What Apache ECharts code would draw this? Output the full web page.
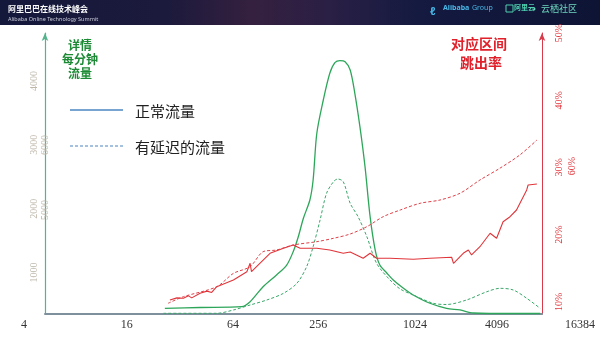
<!DOCTYPE html>
<html><head><meta charset="utf-8">
<script src="https://cdn.jsdelivr.net/npm/echarts@6/dist/echarts.min.js"></script>
<style>html,body{margin:0;padding:0;background:#fff}#c{width:600px;height:337px}</style>
</head><body><div id="c"></div>
<script>
// ---- data (x in log2 units of the per-minute bucket) ----
const xTickLabels = ['4', '16', '64', '256', '1024', '4096', '16384'];
const xTickAt = [2, 4.22, 6.51, 8.35, 10.44, 12.21, 14];   // where each label sits on the drawn axis
const leftTicks = [1000, 2000, 3000, 4000];
const leftTicksExtra = [5000, 6000];
const rightTicks = [10, 20, 30, 40, 50];
const rightTicksExtra = [60];

const normalFlow = [[5.04,439],[5.80,452],[6.70,464],[6.88,543],[7.16,777],[7.45,961],[7.67,1117],[7.81,1326],[7.92,1560],[8.03,1849],[8.17,2135],[8.24,2448],[8.32,3180],[8.46,3701],[8.60,4119],[8.71,4285],[8.82,4316],[8.93,4301],[9.04,4171],[9.14,3806],[9.25,3283],[9.36,2657],[9.47,1874],[9.58,1352],[9.68,1117],[9.83,992],[9.97,882],[10.19,752],[10.40,648],[10.76,518],[11.12,439],[11.41,413],[11.70,366],[12.56,358],[13.14,358]];
const delayedFlow = [[5.01,361],[6.16,361],[6.52,413],[6.88,491],[7.24,569],[7.60,674],[7.89,831],[8.10,1091],[8.24,1404],[8.39,1822],[8.53,2240],[8.68,2422],[8.77,2464],[8.89,2422],[9.04,2083],[9.21,1874],[9.40,1560],[9.61,1144],[9.90,882],[10.12,741],[10.40,648],[10.83,518],[11.12,499],[11.55,569],[11.99,699],[12.27,752],[12.56,726],[12.85,596],[13.14,439]];
const normalRate = [[5.15,10.28],[5.30,10.6],[5.44,10.54],[5.55,10.9],[5.62,10.6],[5.80,11.28],[5.95,11.6],[6.05,11.4],[6.16,12.26],[6.52,13.26],[6.81,14.49],[6.88,15.74],[6.91,14.49],[7.09,15.74],[7.31,17.23],[7.60,17.97],[7.81,18.46],[7.96,17.97],[8.32,17.97],[8.60,17.72],[8.89,17.23],[9.04,17.42],[9.32,16.49],[9.47,17.23],[9.61,16.49],[9.90,16.49],[10.40,16.34],[10.76,16.49],[11.23,16.64],[11.27,15.74],[11.48,17.23],[11.59,17.72],[11.66,16.98],[11.84,18.21],[12.06,20.21],[12.20,19.46],[12.34,21.93],[12.49,22.67],[12.63,23.67],[12.85,26.65],[12.88,27.39],[13.07,27.54]];
const delayedRate = [[5.11,9.79],[5.44,10.77],[6.16,12.26],[6.52,14.25],[6.88,15.24],[7.16,17.47],[7.45,17.72],[7.81,18.46],[8.32,18.96],[8.68,19.46],[9.04,20.10],[9.40,21.19],[9.75,22.67],[10.12,23.67],[10.55,24.67],[10.98,25.16],[11.41,26.16],[11.84,28.13],[12.27,29.88],[12.70,31.85],[13.07,34.08]];

const legendNames = ['正常流量', '有延迟的流量'];

const chart = echarts.init(document.getElementById('c'), null, {renderer: 'canvas'});
const serif = 'Liberation Serif';
const leftLabel = {rotate: 90, color: '#bdb6a9', fontFamily: serif, fontSize: 10, margin: 6, formatter: v => String(v)};
const rightLabel = {rotate: 90, color: '#e0363c', fontFamily: serif, fontSize: 10, margin: 12, formatter: v => v + '%'};

chart.setOption({
  animation: false,
  backgroundColor: '#fff',
  grid: [
    {left: 24, right: 20, top: 33, bottom: 23},
    {left: 45, right: 58, top: 33, bottom: 23}
  ],
  xAxis: [
    {type: 'value', gridIndex: 0, min: 2, max: 14,
     axisLine: {show: false}, axisTick: {show: false}, splitLine: {show: false},
     axisLabel: {customValues: xTickAt, margin: 5, color: '#333', fontFamily: serif, fontSize: 12,
       formatter: v => xTickLabels[xTickAt.indexOf(v)]}},
    {type: 'value', gridIndex: 1, min: 0, max: 1,
     axisLine: {show: true, lineStyle: {color: '#7d909c', width: 2}},
     axisTick: {show: false}, axisLabel: {show: false}, splitLine: {show: false}}
  ],
  yAxis: [
    {type: 'value', gridIndex: 0, position: 'left', offset: -21, min: 350, max: 4750,
     axisLine: {show: true, symbol: ['none', 'arrow'], symbolSize: [5, 8], lineStyle: {color: '#55b38c', width: 1.2}},
     axisTick: {show: false}, splitLine: {show: false},
     axisLabel: Object.assign({customValues: leftTicks}, leftLabel)},
    {type: 'value', gridIndex: 0, position: 'left', offset: -32, min: 3400, max: 7720,
     axisLine: {show: false}, axisTick: {show: false}, splitLine: {show: false},
     axisLabel: Object.assign({customValues: leftTicksExtra}, leftLabel)},
    {type: 'value', gridIndex: 0, position: 'right', offset: -38, min: 8.2, max: 50,
     axisLine: {show: true, symbol: ['none', 'arrow'], symbolSize: [5, 8], lineStyle: {color: '#d93a4a', width: 1}},
     axisTick: {show: false}, splitLine: {show: false},
     axisLabel: Object.assign({customValues: rightTicks}, rightLabel)},
    {type: 'value', gridIndex: 0, position: 'right', offset: -25, min: 38, max: 79.8,
     axisLine: {show: false}, axisTick: {show: false}, splitLine: {show: false},
     axisLabel: Object.assign({customValues: rightTicksExtra}, rightLabel)},
    {type: 'value', gridIndex: 1, show: false}
  ],
  series: [
    {name: legendNames[0], type: 'line', xAxisIndex: 0, yAxisIndex: 0, data: normalFlow, symbol: 'none', smooth: 0.3,
     lineStyle: {color: '#2ea65a', width: 1.3}},
    {name: legendNames[1], type: 'line', xAxisIndex: 0, yAxisIndex: 0, data: delayedFlow, symbol: 'none', smooth: 0.3,
     lineStyle: {color: '#3aa66a', width: 1, type: [3, 2]}},
    {name: legendNames[0], type: 'line', xAxisIndex: 0, yAxisIndex: 2, data: normalRate, symbol: 'none',
     lineStyle: {color: '#e0353a', width: 1.1}},
    {name: legendNames[1], type: 'line', xAxisIndex: 0, yAxisIndex: 2, data: delayedRate, symbol: 'none', smooth: 0.3,
     lineStyle: {color: '#e04048', width: 1, type: [3, 2]}}
  ],
  graphic: [
    {type: 'rect', shape: {x: 0, y: 0, width: 600, height: 25}, silent: true,
     style: {fill: {type: 'linear', x: 0, y: 0, x2: 1, y2: 0, colorStops: [
       {offset: 0, color: '#14183a'}, {offset: 0.28, color: '#1c1a3c'}, {offset: 0.42, color: '#35203f'},
       {offset: 0.55, color: '#2a1f45'}, {offset: 0.7, color: '#141a40'}, {offset: 1, color: '#0e1434'}]}}},
    {type: 'text', x: 8, y: 5, style: {text: '阿里巴巴在线技术峰会', fill: '#ffffff', font: 'bold 8px "Noto Sans CJK SC"'}},
    {type: 'text', x: 8, y: 16, style: {text: 'Alibaba Online Technology Summit', fill: '#c9cbd8', font: '5.5px "Noto Sans"'}},
    {type: 'text', x: 430, y: 6, style: {text: 'ℓ', fill: '#48b8e8', font: 'bold 11px "Noto Sans"'}},
    {type: 'text', x: 443, y: 4, style: {text: 'Alibaba', fill: '#48b8e8', font: 'bold 7px "Noto Sans"'}},
    {type: 'text', x: 472, y: 4, style: {text: 'Group', fill: '#48b8e8', font: '7px "Noto Sans"'}},
    {type: 'rect', shape: {x: 506, y: 5, width: 7, height: 7}, style: {fill: 'none', stroke: '#4fd0b0', lineWidth: 1}},
    {type: 'text', x: 514, y: 4, style: {text: '阿里云', fill: '#4fd0b0', font: 'bold 7px "Noto Sans CJK SC"'}},
    {type: 'text', x: 530, y: 4, style: {text: '· 云栖社区', fill: '#6fd8c0', font: '9px "Noto Sans CJK SC"'}},

    {type: 'text', x: 80, y: 38, style: {text: '详情\n每分钟\n流量', fill: '#1d8a35', align: 'center', verticalAlign: 'top',
      font: 'bold 12px "Noto Sans CJK SC"', lineHeight: 14}},
    {type: 'text', x: 479, y: 37, style: {text: '对应区间', fill: '#e0202a', align: 'center', font: 'bold 14px "Noto Sans CJK SC"'}},
    {type: 'text', x: 481, y: 56, style: {text: '跳出率', fill: '#e0202a', align: 'center', font: 'bold 14px "Noto Sans CJK SC"'}},

    {type: 'line', shape: {x1: 70, y1: 110, x2: 123, y2: 110}, style: {stroke: '#4a86c2', lineWidth: 1.3}},
    {type: 'line', shape: {x1: 70, y1: 146, x2: 123, y2: 146}, style: {stroke: '#4a86c2', lineWidth: 1.1, lineDash: [3, 2]}},
    {type: 'text', x: 135, y: 104, style: {text: legendNames[0], fill: '#222', font: '15px "Noto Sans CJK SC"'}},
    {type: 'text', x: 135, y: 140, style: {text: legendNames[1], fill: '#222', font: '15px "Noto Sans CJK SC"'}}
  ]
});
</script></body></html>
